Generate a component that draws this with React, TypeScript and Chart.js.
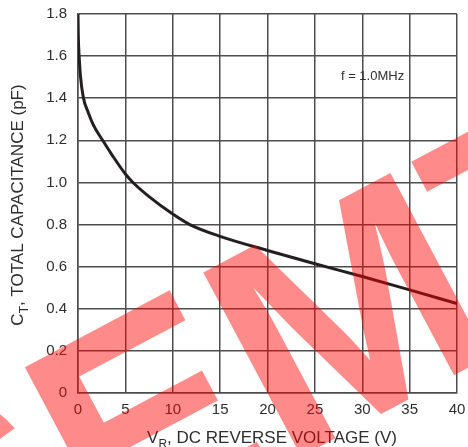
import React, { useEffect, useRef } from "react";
import { Chart, registerables } from "chart.js";

Chart.register(...registerables);

// ---- data ----
const voltage = [0, 0.03, 0.12, 0.25, 0.56, 1.1, 1.6, 2.6, 3.6, 5, 5.8, 7.5, 10, 11.8, 15, 20, 25, 30, 35, 40];
const capacitance = [1.8, 1.7, 1.6, 1.51, 1.404, 1.33, 1.275, 1.2, 1.13, 1.04, 1.0, 0.933, 0.85, 0.8, 0.744, 0.677, 0.614, 0.553, 0.49, 0.425];
const xTicks = [0, 5, 10, 15, 20, 25, 30, 35, 40];
const yTicks = [0, 0.2, 0.4, 0.6, 0.8, 1.0, 1.2, 1.4, 1.6, 1.8];
const xTitle = ["V", "R", ", DC REVERSE VOLTAGE (V)"];
const yTitle = ["C", "T", ", TOTAL CAPACITANCE (pF)"];
const noteText = "f = 1.0MHz";
const noteAt = [27.75, 1.487];
const watermarkText = "SEMTECH";

const FONT = '"Liberation Sans", Arial, sans-serif';
const GRID = "#4d4d4d";

function drawSubText(ctx: CanvasRenderingContext2D, parts: string[], size: number) {
  const subSize = Math.round(size * 0.68);
  ctx.font = `${size}px ${FONT}`;
  const w1 = ctx.measureText(parts[0]).width;
  const w3 = ctx.measureText(parts[2]).width;
  ctx.font = `${subSize}px ${FONT}`;
  const w2 = ctx.measureText(parts[1]).width;
  const total = w1 + w2 + w3;
  let x = -total / 2;
  ctx.font = `${size}px ${FONT}`;
  ctx.fillText(parts[0], x, 0);
  x += w1;
  ctx.font = `${subSize}px ${FONT}`;
  ctx.fillText(parts[1], x, size * 0.3);
  x += w2;
  ctx.font = `${size}px ${FONT}`;
  ctx.fillText(parts[2], x, 0);
}

const decor = {
  id: "decor",
  afterDraw(chart: any) {
    const ctx: CanvasRenderingContext2D = chart.ctx;
    const { left, right, top, bottom } = chart.chartArea;
    const xs = chart.scales.x;
    const ys = chart.scales.y;
    ctx.save();
    ctx.fillStyle = "#2e2e2e";
    ctx.textAlign = "left";
    ctx.textBaseline = "alphabetic";
    ctx.font = `13px ${FONT}`;
    ctx.fillText(noteText, xs.getPixelForValue(noteAt[0]), ys.getPixelForValue(noteAt[1]));

    // x title
    ctx.save();
    ctx.translate((left + right) / 2 + 4.5, 443);
    drawSubText(ctx, xTitle, 17);
    ctx.restore();

    // y title
    ctx.save();
    ctx.translate(23.3, (top + bottom) / 2 + 1.5);
    ctx.rotate(-Math.PI / 2);
    drawSubText(ctx, yTitle, 17);
    ctx.restore();

    // watermark
    ctx.font = `bold 303px ${FONT}`;
    ctx.fillStyle = "rgba(255,0,0,0.46)";
    const a = (-28 * Math.PI) / 180;
    const c = Math.cos(a);
    const s = Math.sin(a);
    const mm = ctx.measureText("M");
    const lsb = -mm.actualBoundingBoxLeft;
    const capH = mm.actualBoundingBoxAscent;
    const rx = lsb * c - -capH * s;
    const ry = lsb * s + -capH * c;
    const ox = 200 - rx;
    const oy = 269 - ry;
    const wSE = ctx.measureText("SE").width;
    ctx.translate(ox, oy);
    ctx.rotate(a);
    ctx.fillText(watermarkText, -wSE, 0);
    ctx.restore();
  },
};

export default function App() {
  const ref = useRef<HTMLCanvasElement>(null);
  useEffect(() => {
    document.body.style.margin = "0";
    const chart = new Chart(ref.current!, {
      type: "line",
      data: {
        datasets: [
          {
            data: voltage.map((v, i) => ({ x: v, y: capacitance[i] })),
            borderColor: "#231f20",
            borderWidth: 3,
            pointRadius: 0,
            fill: false,
            cubicInterpolationMode: "monotone",
          },
        ],
      },
      options: {
        responsive: false,
        animation: false,
        devicePixelRatio: 1,
        layout: { padding: { left: 0, right: 11, top: 14, bottom: 0 } },
        plugins: { legend: { display: false }, tooltip: { enabled: false } },
        scales: {
          x: {
            type: "linear",
            min: 0,
            max: 40,
            afterBuildTicks: (sc: any) => {
              sc.ticks = xTicks.map((v) => ({ value: v }));
            },
            afterFit: (sc: any) => {
              sc.height = 54;
              sc.paddingLeft = 0;
              sc.paddingRight = 0;
            },
            grid: { color: GRID, lineWidth: 1.5, drawTicks: false },
            border: { color: GRID, width: 1.5 },
            ticks: {
              color: "#2e2e2e",
              font: { family: FONT, size: 15 },
              padding: 8,
              maxRotation: 0,
              autoSkip: false,
              callback: (v: any) => String(v),
            },
          },
          y: {
            type: "linear",
            min: 0,
            max: 1.8,
            afterBuildTicks: (sc: any) => {
              sc.ticks = yTicks.map((v) => ({ value: v }));
            },
            afterFit: (sc: any) => {
              sc.width = 78;
              sc.paddingTop = 0;
              sc.paddingBottom = 0;
            },
            grid: { color: GRID, lineWidth: 1.5, drawTicks: false },
            border: { color: GRID, width: 1.5 },
            ticks: {
              color: "#2e2e2e",
              font: { family: FONT, size: 15 },
              padding: 11,
              autoSkip: false,
              callback: (v: any) => (v === 0 ? "0" : Number(v).toFixed(1)),
            },
          },
        },
      },
      plugins: [decor],
    });
    return () => chart.destroy();
  }, []);
  return (
    <div style={{ position: "fixed", left: 0, top: 0, width: 468, height: 447 }}>
      <canvas ref={ref} width={468} height={447} />
    </div>
  );
}
